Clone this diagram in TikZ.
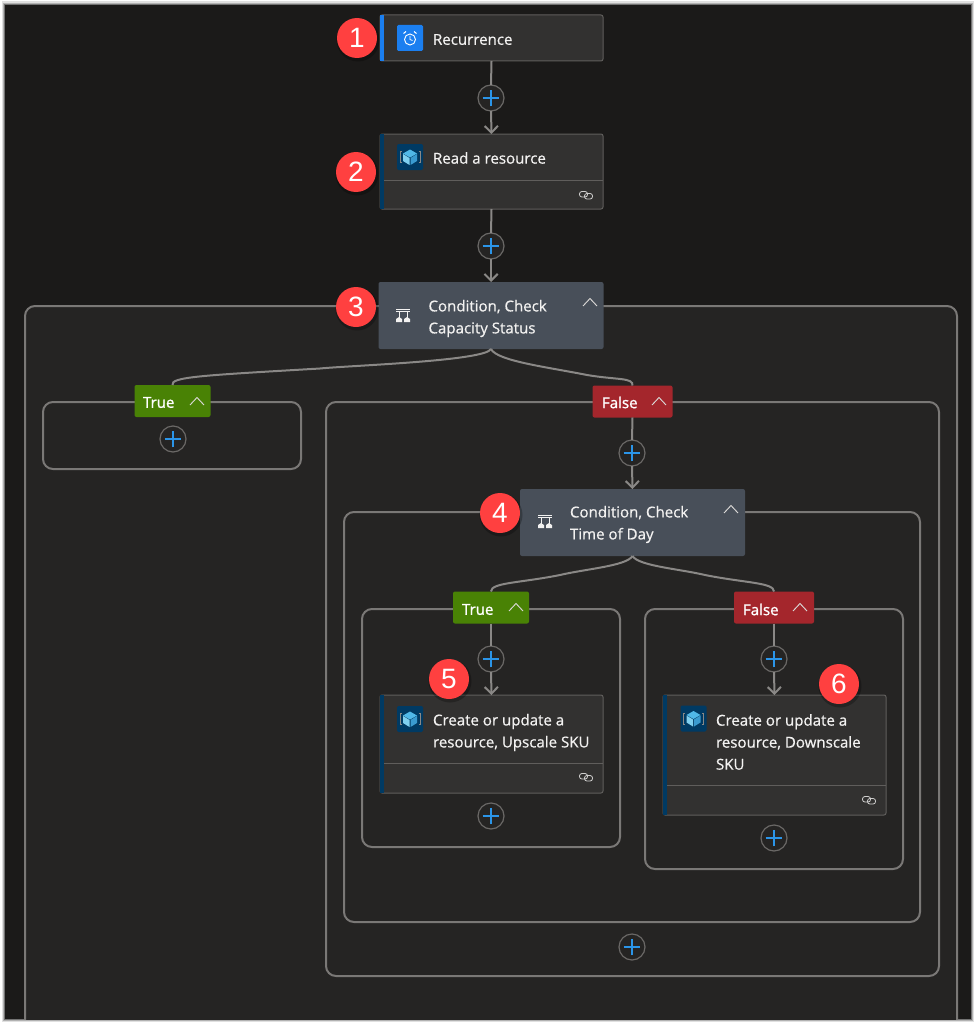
\documentclass[tikz,border=0pt]{standalone}
\usepackage{fontspec}
\setmainfont{Open Sans}
\newfontfamily\titlefont[FakeBold=0.6]{Open Sans}
\newfontfamily\tagfont[FakeBold=1.2]{Open Sans}
\newfontfamily\badgefont{Liberation Sans}
\usetikzlibrary{arrows.meta}
\definecolor{canvasbg}{HTML}{1B1A19}
\definecolor{loopbg}{HTML}{252423}
\definecolor{cardbg}{HTML}{323130}
\definecolor{cardline}{HTML}{605E5C}
\definecolor{wire}{HTML}{8A8886}
\definecolor{frameline}{HTML}{7A7876}
\definecolor{plusline}{HTML}{6A6866}
\definecolor{condbg}{HTML}{484F59}
\definecolor{truebg}{HTML}{498205}
\definecolor{falsebg}{HTML}{A4262C}
\definecolor{plusblue}{HTML}{2B95E8}
\definecolor{trigblue}{HTML}{1B7FF0}
\definecolor{armblue}{HTML}{003A63}
\definecolor{badgered}{HTML}{FF4040}
\definecolor{titletext}{HTML}{F3F2F1}
\definecolor{chevcolor}{HTML}{DAD8D6}
\definecolor{cubetop}{HTML}{50B8E8}
\definecolor{cubeleft}{HTML}{7FD0F0}
\definecolor{cuberight}{HTML}{3A9BD0}
\tikzset{
  pxsize/.style 2 args={minimum width=#1*0.75pt,minimum height=#2*0.75pt,inner sep=0pt,outer sep=0pt},
  frame/.style={draw=frameline,line width=1.5pt,rounded corners=7.5pt,fill=loopbg},
  card/.style={draw=cardline,line width=.75pt,fill=cardbg,rounded corners=1.5pt},
  condcard/.style={fill=condbg,rounded corners=1.5pt},
  truetag/.style={fill=truebg,rounded corners=1.5pt},
  falsetag/.style={fill=falsebg,rounded corners=1.5pt},
  title/.style={anchor=west,inner sep=0pt,outer sep=0pt,text=titletext,font=\titlefont\fontsize{11.3}{16.5}\selectfont,align=left},
  tagtext/.style={anchor=west,inner sep=0pt,outer sep=0pt,text=white,font=\tagfont\fontsize{11.3}{13}\selectfont},
  plusnode/.style={circle,draw=plusline,line width=.9pt,fill=loopbg,minimum size=19.5pt,inner sep=0pt,outer sep=0pt},
  wireline/.style={draw=wire,line width=1.5pt},
  wirearrow/.style={draw=wire,line width=1.5pt,-{Straight Barb[length=5pt,width=10pt,line width=1.5pt]}},
  badge/.style={circle,fill=badgered,minimum size=30pt,inner sep=0pt,text=white,font=\badgefont\fontsize{21}{21}\selectfont},
}
\newcommand{\plusmark}[1]{\draw[plusblue,line width=1.1pt] ([xshift=-6.2pt]#1.center) -- ([xshift=6.2pt]#1.center) ([yshift=-6.2pt]#1.center) -- ([yshift=6.2pt]#1.center);}
\newcommand{\chevronat}[2]{\draw[chevcolor,line width=.7pt] (#1-7,#2+4) -- (#1,#2-3.5) -- (#1+7,#2+4);}
\newcommand{\cubeicon}[2]{\begin{scope}[shift={(#1,#2)}]
  \fill[armblue,rounded corners=1pt] (-13,-13) rectangle (13,13);
  \draw[wire,line width=.6pt] (-8.5,-5.5) -- (-10,-5.5) -- (-10,5.5) -- (-8.5,5.5) (8.5,-5.5) -- (10,-5.5) -- (10,5.5) -- (8.5,5.5);
  \fill[cubetop] (0,-7.5) -- (7,-3.5) -- (0,0.5) -- (-7,-3.5) -- cycle;
  \fill[cubeleft] (-7,-3) -- (-0.5,1) -- (-0.5,8) -- (-7,4) -- cycle;
  \fill[cuberight] (7,-3) -- (0.5,1) -- (0.5,8) -- (7,4) -- cycle;
\end{scope}}
\newcommand{\linkicon}[2]{\begin{scope}[shift={(#1,#2)}]
  \draw[titletext!85!black,line width=.6pt,rounded corners=1.8pt] (-6.5,-3.5) rectangle (1.5,2);
  \draw[titletext!85!black,line width=.6pt,rounded corners=1.8pt] (-1.5,-1.5) rectangle (6.5,4);
\end{scope}}
\newcommand{\condicon}[2]{\begin{scope}[shift={(#1,#2)}]
  \draw[titletext,line width=.8pt] (-7,-6.5) -- (7,-6.5);
  \draw[titletext,line width=.5pt] (-7,-4.5) -- (7,-4.5);
  \draw[titletext,line width=.6pt] (-4,-4.5) -- (-4,2) (4,-4.5) -- (4,2);
  \fill[titletext] (-7,3) -- (-4,1) -- (-1,3) -- (-1,6) -- (-7,6) -- cycle;
  \fill[titletext] (7,3) -- (4,1) -- (1,3) -- (1,6) -- (7,6) -- cycle;
\end{scope}}
\begin{document}
\begin{tikzpicture}[x=0.75pt,y=-0.75pt]
\useasboundingbox (0,0) rectangle (976,1024);
\fill[white] (0,0) rectangle (976,1024);
\fill[black!12] (2,1) rectangle (974,1022);
\fill[black!30] (3,3) rectangle (973,1021);
\fill[black!55] (4,4) rectangle (972,1020);
\fill[canvasbg] (5,5) rectangle (971,1019);
% outer loop, open at the bottom
\begin{scope}
\clip (5,5) rectangle (971,1019);
\draw[frame] (25,1040) -- (25,306) -- (957,306) -- (957,1040);
\end{scope}
% frames
\node[frame,pxsize={258}{67}] (loopT) at (172,435.5) {};
\node[frame,pxsize={613}{574}] (loopF) at (632.5,689) {};
\node[frame,pxsize={576}{410}] (loopInner) at (632,717) {};
\node[frame,pxsize={258}{238}] (loopT2) at (491,728) {};
\node[frame,pxsize={258}{260}] (loopF2) at (774,739) {};
% tags, cards
\node[card,pxsize={223}{46}] (rec) at (491.5,38) {};
\node[card,pxsize={223}{75}] (read) at (491.5,171.5) {};
\node[condcard,pxsize={225}{67}] (cond1) at (491,315.5) {};
\node[truetag,pxsize={76}{32}] (tagT) at (172.5,401) {};
\node[falsetag,pxsize={80}{32}] (tagF) at (632.5,401.5) {};
\node[condcard,pxsize={225}{67}] (cond2) at (632.5,522.5) {};
\node[truetag,pxsize={76}{32}] (tagT2) at (491,607.5) {};
\node[falsetag,pxsize={80}{32}] (tagF2) at (774,607.5) {};
\node[card,pxsize={223}{98}] (up) at (491.5,744) {};
\node[card,pxsize={223}{120}] (down) at (774.5,755) {};
% plus buttons
\node[plusnode] (p1) at (491,98) {};
\node[plusnode] (p2) at (491,246) {};
\node[plusnode] (p3) at (173,439) {};
\node[plusnode] (p4) at (632,453) {};
\node[plusnode] (p5) at (491,659) {};
\node[plusnode] (p6) at (774,659) {};
\node[plusnode] (p7) at (491,816) {};
\node[plusnode] (p8) at (774,838) {};
\node[plusnode] (p9) at (632,947) {};
% connectors
\coordinate (b1L) at (320,368.5);
\coordinate (b1R) at (587,375);
\coordinate (b2L) at (560,575);
\coordinate (b2R) at (705,575);
\draw[wireline] (rec.south) -- (p1.north);
\draw[wirearrow] (p1.south) -- (read.north);
\draw[wireline] (read.south) -- (p2.north);
\draw[wirearrow] (p2.south) -- (cond1.north);
\draw[wireline] (cond1.south) .. controls +(-6,12) and +(30,-3) .. (b1L) .. controls +(-120,7) and +(-2,-8) .. (tagT.north);
\draw[wireline] (cond1.south) .. controls +(6,12) and +(-40,-8) .. (b1R) .. controls +(30,5) and +(1,-8) .. (tagF.north);
\draw[wireline] (tagF.south) -- (p4.north);
\draw[wirearrow] (p4.south) -- (cond2.north);
\draw[wireline] (cond2.south) .. controls +(-6,10) and +(25,-6) .. (b2L) .. controls +(-40,8) and +(0,-9) .. (tagT2.north);
\draw[wireline] (cond2.south) .. controls +(6,10) and +(-25,-6) .. (b2R) .. controls +(40,8) and +(0,-9) .. (tagF2.north);
\draw[wireline] (tagT2.south) -- (p5.north);
\draw[wirearrow] (p5.south) -- (up.north);
\draw[wireline] (tagF2.south) -- (p6.north);
\draw[wirearrow] (p6.south) -- (down.north);
\foreach \p in {p1,p2,p3,p4,p5,p6,p7,p8,p9}{\plusmark{\p}}
% accent bars and dividers
\fill[trigblue] (380,15) rectangle (384,61);
\fill[armblue] (380,134) rectangle (384,209);
\fill[armblue] (380,695) rectangle (384,793);
\fill[armblue] (663,695) rectangle (667,815);
\draw[cardline,line width=.75pt] (384,180) -- (603,180);
\draw[cardline,line width=.75pt] (384,763) -- (603,763);
\draw[cardline,line width=.75pt] (667,785) -- (886,785);
% icons
\fill[trigblue,rounded corners=1pt] (397,25) rectangle (423,51);
\begin{scope}[shift={(410,39.5)}]
  \draw[white,line width=.7pt] (0,0) circle (5.5);
  \draw[white,line width=.6pt] (0,-3.5) -- (0,0) -- (2.5,1);
  \draw[white,line width=.8pt] (-6.5,-6) -- (-4,-8) (6.5,-6) -- (4,-8);
\end{scope}
\cubeicon{410}{157}
\cubeicon{410}{719}
\cubeicon{693.5}{718.5}
\condicon{403}{316}
\condicon{545}{522}
\linkicon{586}{195}
\linkicon{586}{777}
\linkicon{869}{800}
\chevronat{590}{302}
\chevronat{731}{509}
\chevronat{197}{401}
\chevronat{659}{401}
\chevronat{516}{607}
\chevronat{800}{607}
% texts
\node[title] (tRec) at (433,39.5) {Recurrence};
\node[title] (tRead) at (433,158) {Read a resource};
\node[title] (tC1) at (428.5,318.5) {Condition, Check\\Capacity Status};
\node[title] (tC2) at (570,524.5) {Condition, Check\\Time of Day};
\node[title] (tUp) at (433,732.5) {Create or update a\\resource, Upscale SKU};
\node[title] (tDown) at (716,742) {Create or update a\\resource, Downscale\\SKU};
\node[tagtext] (lT) at (143,402.5) {True};
\node[tagtext] (lF) at (602,402.5) {False};
\node[tagtext] (lT2) at (462,609.5) {True};
\node[tagtext] (lF2) at (743,609.5) {False};
% badges
\foreach \n/\bx/\by/\d in {b1/357/38/1,b2/356/172/2,b3/356/307/3,b4/500/513/4,b5/449/679/5,b6/839/684/6}{
  \fill[black,opacity=.25] (\bx+1,\by+2) circle (21.5);
  \node[badge] (\n) at (\bx,\by) {\d};
}
\end{tikzpicture}
\end{document}
